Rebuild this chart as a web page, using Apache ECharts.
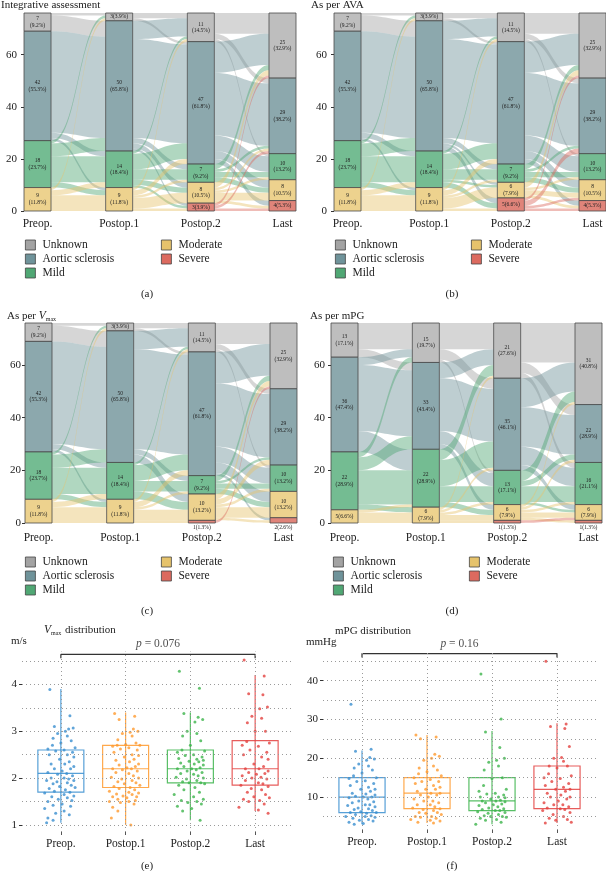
<!DOCTYPE html>
<html>
<head>
<meta charset="utf-8">
<script src="https://cdn.jsdelivr.net/npm/echarts@6/dist/echarts.min.js"></script>
<style>
  html, body { margin: 0; padding: 0; background: #fff; }
  #chart { width: 606px; height: 871px; }
</style>
</head>
<body>
<div id="chart"></div>
<script>
const stages = ['Preop.', 'Postop.1', 'Postop.2', 'Last'];
const states = ['Unknown', 'Aortic sclerosis', 'Mild', 'Moderate', 'Severe'];
const total = 76;

// patients per stratum: one row per stage, columns follow `states`
const intCounts = [[7, 42, 18, 9, 0], [3, 50, 14, 9, 0], [11, 47, 7, 8, 3], [25, 29, 10, 8, 4]];
const avaCounts = [[7, 42, 18, 9, 0], [3, 50, 14, 9, 0], [11, 47, 7, 6, 5], [25, 29, 10, 8, 4]];
const vmaxCounts = [[7, 42, 18, 9, 0], [3, 50, 14, 9, 0], [11, 47, 7, 10, 1], [25, 29, 10, 10, 2]];
const mpgCounts = [[13, 36, 22, 5, 0], [15, 33, 22, 6, 0], [21, 35, 13, 6, 1], [31, 22, 16, 6, 1]];

// flows between two neighbouring stages: row = state before, column = state after
const firstFlow = [[1, 6, 0, 0, 0], [0, 39, 2, 1, 0], [1, 5, 10, 2, 0], [1, 0, 2, 6, 0], [0, 0, 0, 0, 0]];
const intFlows = [
  firstFlow,
  [[2, 1, 0, 0, 0], [7, 38, 2, 2, 1], [1, 6, 4, 2, 1], [1, 2, 1, 4, 1], [0, 0, 0, 0, 0]],
  [[8, 2, 1, 0, 0], [12, 24, 6, 3, 2], [2, 1, 2, 2, 0], [2, 1, 1, 3, 1], [1, 1, 0, 0, 1]]
];
const avaFlows = [
  firstFlow,
  [[2, 1, 0, 0, 0], [7, 38, 2, 1, 2], [1, 6, 4, 1, 2], [1, 2, 1, 4, 1], [0, 0, 0, 0, 0]],
  [[8, 2, 1, 0, 0], [12, 24, 6, 3, 2], [2, 1, 2, 2, 0], [2, 0, 1, 2, 1], [1, 2, 0, 1, 1]]
];
const vmaxFlows = [
  firstFlow,
  [[2, 1, 0, 0, 0], [7, 38, 2, 3, 0], [1, 6, 4, 3, 0], [1, 2, 1, 4, 1], [0, 0, 0, 0, 0]],
  [[8, 2, 1, 0, 0], [12, 24, 6, 4, 1], [2, 1, 2, 2, 0], [2, 2, 1, 4, 1], [1, 0, 0, 0, 0]]
];
const mpgFlows = [
  [[10, 3, 0, 0, 0], [3, 25, 8, 0, 0], [2, 5, 13, 2, 0], [0, 0, 1, 4, 0], [0, 0, 0, 0, 0]],
  [[10, 4, 1, 0, 0], [6, 20, 5, 2, 0], [4, 10, 6, 2, 0], [1, 1, 1, 2, 1], [0, 0, 0, 0, 0]],
  [[15, 4, 2, 0, 0], [11, 15, 7, 2, 0], [4, 2, 6, 1, 0], [1, 1, 1, 2, 1], [0, 0, 0, 1, 0]]
];
const sankeyTicks = [0, 20, 40, 60];

// box statistics per stage: [lower whisker, Q1, median, Q3, upper whisker]
const vmaxBox = [[1.05, 1.7, 2.1, 2.6, 3.9], [1.0, 1.8, 2.2, 2.7, 3.4], [1.1, 1.9, 2.2, 2.6, 3.4], [1.3, 1.85, 2.2, 2.8, 4.2]];
const mpgBox = [[3, 6, 10, 15, 22], [3.3, 7, 11, 15, 26], [3, 6.5, 9, 15, 27], [3.3, 7, 12, 18, 29]];

// individual measurements (m/s)
const vmaxPre = [3.89, 3.33, 3.1, 3.05, 3.07, 3.0, 2.95, 2.9, 2.85, 2.8, 2.75, 2.7, 2.65, 2.62, 2.6, 2.58, 2.55, 2.5, 2.5, 2.45,
  2.4, 2.35, 2.3, 2.3, 2.25, 2.2, 2.2, 2.15, 2.12, 2.1, 2.08, 2.05, 2.0, 2.0, 1.98, 1.95, 1.95, 1.92, 1.9, 1.88,
  1.85, 1.82, 1.8, 1.78, 1.75, 1.72, 1.7, 1.68, 1.65, 1.62, 1.6, 1.58, 1.55, 1.52, 1.5, 1.45, 1.42, 1.4, 1.35, 1.3,
  1.25, 1.22, 1.15, 1.1, 1.05];
const vmaxP1 = [3.38, 3.32, 3.25, 3.05, 3.0, 2.98, 2.95, 2.9, 2.82, 2.75, 2.72, 2.7, 2.7, 2.68, 2.65, 2.62, 2.6, 2.55, 2.5, 2.48,
  2.45, 2.4, 2.38, 2.35, 2.3, 2.28, 2.25, 2.22, 2.2, 2.2, 2.18, 2.15, 2.12, 2.1, 2.05, 2.02, 2.0, 1.98, 1.95, 1.92,
  1.9, 1.88, 1.85, 1.82, 1.8, 1.78, 1.75, 1.72, 1.7, 1.68, 1.66, 1.65, 1.62, 1.6, 1.6, 1.58, 1.55, 1.52, 1.5, 1.5,
  1.48, 1.45, 1.38, 1.3, 1.15, 1.0];
const vmaxP2 = [4.28, 3.92, 3.38, 3.3, 3.25, 3.2, 3.0, 2.95, 2.9, 2.8, 2.7, 2.6, 2.58, 2.55, 2.5, 2.48, 2.45, 2.42, 2.4, 2.38,
  2.36, 2.35, 2.32, 2.3, 2.28, 2.25, 2.22, 2.2, 2.2, 2.18, 2.15, 2.12, 2.1, 2.08, 2.05, 2.02, 2.0, 1.98, 1.95, 1.92,
  1.9, 1.9, 1.88, 1.85, 1.8, 1.75, 1.7, 1.65, 1.6, 1.55, 1.52, 1.5, 1.48, 1.45, 1.4, 1.35, 1.3, 1.1];
const vmaxLast = [4.52, 4.18, 3.8, 3.78, 3.52, 3.48, 3.32, 3.28, 3.18, 3.0, 3.0, 2.78, 2.75, 2.7, 2.68, 2.6, 2.55, 2.5, 2.45, 2.4,
  2.3, 2.25, 2.2, 2.2, 2.15, 2.12, 2.1, 2.08, 2.05, 2.02, 2.0, 1.98, 1.95, 1.9, 1.88, 1.85, 1.82, 1.78, 1.75, 1.7,
  1.65, 1.6, 1.58, 1.55, 1.52, 1.5, 1.45, 1.38, 1.32, 1.25];

// individual measurements (mmHg)
const mpgPre = [33.9, 22.3, 21.8, 20.2, 19.8, 19.5, 18.5, 18, 17.5, 17, 16.2, 15.5, 15, 14.8, 14.2, 14, 13.5, 13, 12.5, 12,
  12, 11.5, 11, 10.8, 10.5, 10.2, 10, 10, 9.8, 9.5, 9, 8.8, 8.5, 8, 8, 7.8, 7.5, 7.2, 7, 6.8,
  6.5, 6.2, 6, 6, 5.8, 5.5, 5.2, 5, 5, 4.8, 4.5, 4.2, 4, 3.8, 3.5, 3.2, 3];
const mpgP1 = [26, 25.5, 25, 21, 20.5, 20, 19.5, 18, 17.5, 17, 16.5, 16, 15.5, 15, 14.5, 14, 14, 13.5, 13, 12.5,
  12, 12, 11.5, 11, 11, 10.5, 10.5, 10, 9.5, 9, 9, 8.5, 8, 8, 7.5, 7.2, 7, 6.8, 6.5, 6,
  6, 5.8, 5.5, 5, 5, 4.8, 4.5, 4.2, 4, 3.8, 3.5, 3.3];
const mpgP2 = [41.7, 30.1, 26.8, 22.8, 20, 19.5, 19, 18, 17, 15, 14.8, 13, 12, 11.5, 11, 10.8, 10.5, 10, 10, 9.8,
  9.5, 9.2, 9, 9, 8.8, 8.5, 8.2, 8, 7.8, 7.5, 7.2, 7, 6.8, 6.5, 6.5, 6.2, 6, 5.8, 5.5, 5.2,
  5, 5, 4.8, 4.5, 4.2, 4, 3.5, 3];
const mpgLast = [45, 28.8, 28.2, 27.7, 23, 20.2, 20, 19.2, 18, 18, 17.5, 16, 15.5, 15, 14.8, 14, 13.5, 13, 12.5, 12,
  12, 11.5, 11, 10.5, 10, 10, 9.5, 9, 8.5, 8, 8, 7.5, 7.2, 7, 6.8, 6.5, 6, 5.5, 5, 4.5,
  4.2, 4, 3.5, 3.3];

// horizontal offsets of the jittered points
const jitter = [-0.17, 0.14, -0.1, 0.12, 0.19, 0.07, -0.05, 0.1, -0.12, 0.16, 0.0, -0.13, 0.22, -0.2, 0.05, -0.08, 0.18, -0.18, 0.1, 0.2,
  -0.02, 0.13, -0.15, 0.06, 0.2, -0.1, 0.15, 0.02, -0.2, 0.09, -0.05, 0.18, -0.15, 0.05, 0.12, -0.22, 0.2, -0.06, 0.1, -0.12,
  0.16, -0.02, 0.22, -0.18, 0.07, -0.1, 0.14, -0.25, 0.05, 0.2, -0.14, 0.1, -0.04, 0.17, -0.2, 0.02, -0.12, 0.15, -0.25, 0.05,
  -0.08, 0.13, -0.2, -0.12, -0.22, 0.08, -0.03, 0.24, -0.16, 0.11, 0.03, -0.24, 0.19, -0.07, 0.09, -0.19, 0.21, -0.01, 0.12, -0.09];

const vmaxTicks = [1, 2, 3, 4];
const vmaxGrid = [1, 1.5, 2, 2.5, 3, 3.5, 4, 4.5];
const mpgTicks = [10, 20, 30, 40];
const mpgGrid = [5, 10, 15, 20, 25, 30, 35, 40, 45];

const FONT = '"Liberation Serif", "DejaVu Serif", serif';
const stateColors = ['#A3A3A3', '#6F939A', '#50A774', '#E6C36C', '#DC6A5F'];
const nodeColors = ['#BEBEBE', '#8CA8AD', '#74BC92', '#EDD28E', '#E0847A'];
const groupColors = ['#3A8FD0', '#FF9A2E', '#3CB44B', '#E3413F'];

let chart = echarts.init(document.getElementById('chart'), null, { renderer: 'canvas' });

const panels = [
  { counts: intCounts, flows: intFlows, left: 24, top: 13, width: 272, height: 198, lblMargin: 7, xMargin: 7 },
  { counts: avaCounts, flows: avaFlows, left: 334, top: 13, width: 272, height: 198, lblMargin: 7, xMargin: 7 },
  { counts: vmaxCounts, flows: vmaxFlows, left: 25, top: 323, width: 272, height: 200, lblMargin: 4, xMargin: 9 },
  { counts: mpgCounts, flows: mpgFlows, left: 331, top: 323, width: 271, height: 200, lblMargin: 6, xMargin: 9 }
];

function sankeyNodes(counts) {
  let nodes = [];
  counts.forEach(function (col, s) {
    col.forEach(function (n, k) {
      if (!n) return;
      let pct = (n / total * 100).toFixed(1);
      nodes.push({
        name: s + '|' + k,
        value: n,
        depth: s,
        itemStyle: { color: nodeColors[k] },
        label: {
          formatter: n <= 5 ? n + '(' + pct + '%)' : n + '\n(' + pct + '%)',
          position: n <= 2 ? 'bottom' : 'inside',
          distance: 1
        }
      });
    });
  });
  return nodes;
}

function sankeyLinks(flows) {
  let links = [];
  flows.forEach(function (m, s) {
    m.forEach(function (row, from) {
      row.forEach(function (n, to) {
        if (!n) return;
        links.push({
          source: s + '|' + from,
          target: (s + 1) + '|' + to,
          value: n,
          lineStyle: { color: stateColors[from], opacity: 0.45 }
        });
      });
    });
  });
  return links;
}

let grid = [], xAxis = [], yAxis = [], series = [], legend = [];

panels.forEach(function (p, i) {
  grid.push({ left: p.left + 13.5, top: p.top, width: p.width - 27, height: p.height });
  xAxis.push({
    gridIndex: i, type: 'category', data: stages, boundaryGap: false,
    axisLine: { show: false }, axisTick: { show: false },
    axisLabel: { margin: p.xMargin, fontSize: 11.5, color: '#222', fontFamily: FONT }
  });
  yAxis.push({
    gridIndex: i, type: 'value', min: 0, max: total, interval: 20, offset: 13.5,
    axisLine: { show: false }, splitLine: { show: false },
    axisTick: { show: true, length: 3, customValues: sankeyTicks, lineStyle: { color: '#333' } },
    axisLabel: {
      customValues: sankeyTicks, margin: p.lblMargin, fontSize: 11, color: '#222', fontFamily: FONT,
      formatter: function (v) { return sankeyTicks.indexOf(v) >= 0 ? String(v) : ''; }
    }
  });
  series.push({
    type: 'sankey',
    left: p.left, top: p.top, width: p.width, height: p.height,
    nodeWidth: 27, nodeGap: 0, layoutIterations: 0, draggable: false,
    silent: true, animation: false,
    data: sankeyNodes(p.counts),
    links: sankeyLinks(p.flows),
    itemStyle: { borderColor: '#4a4a4a', borderWidth: 0.8 },
    lineStyle: { curveness: 0.5 },
    label: { show: true, fontSize: 5.5, lineHeight: 6.5, color: '#222', fontFamily: FONT, align: 'center' }
  });
});

// legend entries (empty series only carry the swatch colours)
states.forEach(function (s, k) {
  series.push({ name: s, type: 'bar', xAxisIndex: 0, yAxisIndex: 0, data: [], itemStyle: { color: stateColors[k] } });
});
const legendSpots = [[21, 157, 235], [331, 467, 235], [21, 157, 552], [329, 465, 552]];
legendSpots.forEach(function (l) {
  [states.slice(0, 3), states.slice(3)].forEach(function (names, c) {
    legend.push({
      data: names, orient: 'vertical', left: l[c], top: l[2], icon: 'rect', padding: 4,
      itemWidth: 10, itemHeight: 10, itemGap: 2, selectedMode: false,
      itemStyle: { borderColor: '#444', borderWidth: 0.8 },
      textStyle: { fontSize: 11.5, color: '#222', fontFamily: FONT, padding: [0, 0, 0, 2] }
    });
  });
});

// box-plot panels
const boxPanels = [
  { box: vmaxBox, pts: [vmaxPre, vmaxP1, vmaxP2, vmaxLast], ticks: vmaxTicks, lines: vmaxGrid, min: 0.85, max: 4.7,
    left: 22, top: 651.6, width: 272, height: 180.4, bracket: 4.64, foot: 4.56, pText: '0.076', lblMargin: 5 },
  { box: mpgBox, pts: [mpgPre, mpgP1, mpgP2, mpgLast], ticks: mpgTicks, lines: mpgGrid, min: 1.5, max: 47.5,
    left: 323, top: 651.6, width: 273, height: 178.4, bracket: 47, foot: 46, pText: '0.16', lblMargin: 5 }
];

function renderBox(params, api) {
  let x = api.value(0);
  let half = api.size([0.71, 0])[0] / 2;
  let lo = api.coord([x, api.value(1)]);
  let q1 = api.coord([x, api.value(2)]);
  let md = api.coord([x, api.value(3)]);
  let q3 = api.coord([x, api.value(4)]);
  let hi = api.coord([x, api.value(5)]);
  let color = groupColors[params.dataIndex];
  let st = { stroke: color, lineWidth: 1.2, opacity: 0.85, fill: null };
  return {
    type: 'group',
    children: [
      { type: 'line', shape: { x1: lo[0], y1: lo[1], x2: hi[0], y2: hi[1] }, style: st },
      { type: 'rect', shape: { x: q3[0] - half, y: q3[1], width: half * 2, height: q1[1] - q3[1] }, style: st },
      { type: 'line', shape: { x1: md[0] - half, y1: md[1], x2: md[0] + half, y2: md[1] }, style: st }
    ]
  };
}

boxPanels.forEach(function (b, j) {
  let gi = 4 + j;
  grid.push({ left: b.left, top: b.top, width: b.width, height: b.height });
  xAxis.push({
    gridIndex: gi, type: 'value', min: 0.4, max: 4.6,
    axisLine: { show: false }, splitLine: { show: false },
    axisTick: { show: true, length: 3, customValues: [1, 2, 3, 4], lineStyle: { color: '#555' } },
    axisLabel: {
      customValues: [1, 2, 3, 4], margin: 6, fontSize: 11.5, color: '#222', fontFamily: FONT,
      formatter: function (v) { return Math.abs(v - Math.round(v)) < 1e-6 ? (stages[Math.round(v) - 1] || '') : ''; }
    }
  });
  yAxis.push({
    gridIndex: gi, type: 'value', min: b.min, max: b.max,
    axisLine: { show: false }, splitLine: { show: false },
    axisTick: { show: true, length: 3, customValues: b.ticks, lineStyle: { color: '#333' } },
    axisLabel: {
      customValues: b.ticks, margin: b.lblMargin, fontSize: 11, color: '#222', fontFamily: FONT,
      formatter: function (v) { return b.ticks.indexOf(v) >= 0 ? String(v) : ''; }
    }
  });
  series.push({
    type: 'custom', xAxisIndex: gi, yAxisIndex: gi, silent: true, animation: false, z: 2,
    renderItem: renderBox,
    encode: { x: 0, y: [1, 2, 3, 4, 5] },
    data: b.box.map(function (s, i) { return [i + 1].concat(s); }),
    markLine: {
      silent: true, symbol: ['none', 'none'], label: { show: false }, animation: false,
      lineStyle: { color: '#9a9a9a', type: [1, 3], width: 1 },
      emphasis: { disabled: true },
      data: b.lines.map(function (v) { return { yAxis: v }; })
        .concat([1, 2, 3, 4].map(function (v) { return { xAxis: v }; }))
    }
  });
  b.pts.forEach(function (vals, i) {
    series.push({
      type: 'scatter', xAxisIndex: gi, yAxisIndex: gi, silent: true, animation: false, z: 3,
      symbol: 'circle', symbolSize: 3,
      itemStyle: { color: groupColors[i] },
      data: vals.map(function (v, k) { return [i + 1 + jitter[k % jitter.length], v]; })
    });
  });
  // significance bracket and its p value
  series.push({
    type: 'line', xAxisIndex: gi, yAxisIndex: gi, silent: true, animation: false, z: 4,
    symbol: 'none', lineStyle: { color: '#333', width: 1.2 },
    data: [[1, b.foot], [1, b.bracket], [4, b.bracket], [4, b.foot]]
  });
  series.push({
    type: 'scatter', xAxisIndex: gi, yAxisIndex: gi, silent: true, animation: false, z: 4,
    symbolSize: 0,
    data: [[2.5, b.bracket]],
    label: {
      show: true, position: 'top', distance: 4,
      formatter: '{i|p} = ' + b.pText,
      fontSize: 11.5, color: '#222', fontFamily: FONT,
      rich: { i: { fontStyle: 'italic', fontSize: 11.5, fontFamily: FONT, color: '#222' } }
    }
  });
});

function txt(x, y, text, extra) {
  return {
    type: 'text', x: x, y: y, silent: true,
    style: Object.assign({
      text: text, fill: '#222', font: '11px ' + FONT,
      align: 'left', verticalAlign: 'middle'
    }, extra || {})
  };
}
const subRich = {
  v: { fontStyle: 'italic', fontSize: 11.5, fontFamily: FONT, color: '#222', lineHeight: 14 },
  s: { fontSize: 6, fontFamily: FONT, color: '#222', lineHeight: 14, padding: [7, 1, 0, 0] },
  t: { fontSize: 11, fontFamily: FONT, color: '#222', lineHeight: 14 }
};

let graphic = [
  txt(1, 5, 'Integrative assessment'),
  txt(311, 5, 'As per AVA'),
  txt(7, 316, '{t|As per }{v|V}{s|max}', { rich: subRich }),
  txt(310, 316, 'As per mPG'),
  txt(44, 630, '{v|V}{s|max}{t| distribution}', { rich: subRich }),
  txt(11, 641, 'm/s'),
  txt(335, 631, 'mPG distribution'),
  txt(306, 642, 'mmHg'),
  txt(147, 294, '(a)', { align: 'center' }),
  txt(452, 294, '(b)', { align: 'center' }),
  txt(147, 611, '(c)', { align: 'center' }),
  txt(452, 611, '(d)', { align: 'center' }),
  txt(147, 866, '(e)', { align: 'center' }),
  txt(452, 866, '(f)', { align: 'center' })
];

chart.setOption({
  animation: false,
  backgroundColor: '#fff',
  textStyle: { fontFamily: FONT },
  grid: grid,
  xAxis: xAxis,
  yAxis: yAxis,
  legend: legend,
  series: series,
  graphic: graphic
});
</script>
</body>
</html>
